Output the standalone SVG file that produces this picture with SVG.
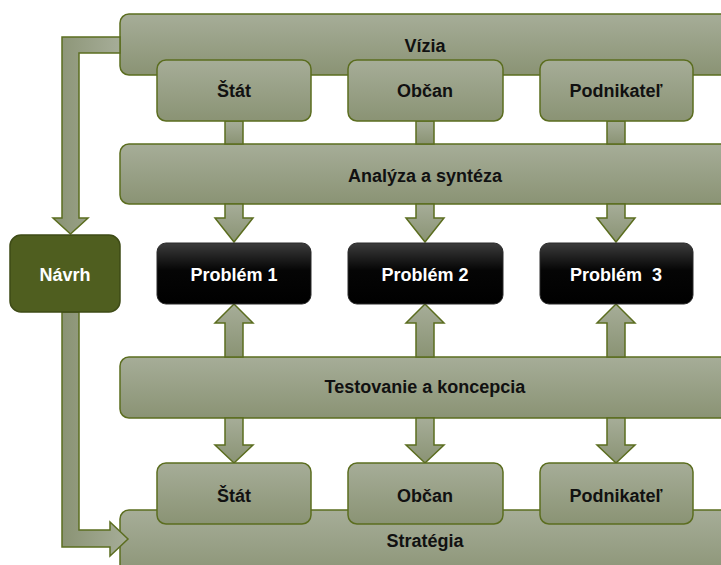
<svg xmlns="http://www.w3.org/2000/svg" width="721" height="565" viewBox="0 0 721 565">
  <defs>
    <linearGradient id="olive" x1="0" y1="0" x2="0" y2="1">
      <stop offset="0" stop-color="#a6ad98"/>
      <stop offset="1" stop-color="#8a9374"/>
    </linearGradient>
    <linearGradient id="oliveH" x1="0" y1="0" x2="1" y2="0">
      <stop offset="0" stop-color="#8a9374"/>
      <stop offset="1" stop-color="#a6ad98"/>
    </linearGradient>
    <linearGradient id="dark" x1="0" y1="0" x2="0" y2="1">
      <stop offset="0" stop-color="#3c3c3c"/>
      <stop offset="0.45" stop-color="#050505"/>
      <stop offset="1" stop-color="#000000"/>
    </linearGradient>
    <style>
      .bar, .box { fill: url(#olive); stroke: #5b6d1f; stroke-width: 1.5; }
      .prob { fill: url(#dark); stroke: #2a2a2a; stroke-width: 1; }
      .navrh { fill: #4f5e1f; stroke: #3e4b16; stroke-width: 1.5; }
      .arrow { fill: url(#olive); stroke: #5b6d1f; stroke-width: 1.5; stroke-linejoin: miter; }
      .arrowH { fill: url(#oliveH); stroke: #5b6d1f; stroke-width: 1.5; }
      text { font-family: "Liberation Sans", Arial, sans-serif; font-weight: bold; font-size: 18px; text-anchor: middle; }
      .dk { fill: #111111; }
      .lt { fill: #ffffff; }
    </style>
  </defs>

  <!-- wide horizontal bands -->
  <g id="vizia">
    <rect class="bar" x="120" y="14" width="612" height="61" rx="9"/>
    <text class="dk" x="425" y="52">Vízia</text>
  </g>
  <g id="analyza">
    <rect class="bar" x="120" y="144" width="612" height="60" rx="9"/>
    <text class="dk" x="425" y="182">Analýza a syntéza</text>
  </g>
  <g id="testovanie">
    <rect class="bar" x="120" y="357" width="612" height="61" rx="9"/>
    <text class="dk" x="425" y="393">Testovanie a koncepcia</text>
  </g>
  <g id="strategia">
    <rect class="bar" x="120" y="510" width="612" height="70" rx="9"/>
    <text class="dk" x="425" y="547">Stratégia</text>
  </g>

  <!-- connectors -->
  <g id="connectors">
    <!-- feedback loop: Vízia -> Návrh -> Stratégia -->
    <path class="arrowH" d="M120 37 H62 V218 H53 L70.5 234 L88 218 H79 V53 H120 Z"/>
    <path class="arrowH" d="M62 312 V547 H110 V556 L128 539 L110 522 V530 H79 V312 Z"/>

    <!-- stakeholders -> Analýza -->
    <rect class="arrow" x="225" y="121" width="18" height="23"/>
    <rect class="arrow" x="416" y="121" width="18" height="23"/>
    <rect class="arrow" x="607" y="121" width="18" height="23"/>

    <!-- Analýza -> problems -->
    <path class="arrow" d="M225 204 H243 V218 H253 L234 242 L215 218 H225 Z"/>
    <path class="arrow" d="M416 204 H434 V218 H444 L425 242 L406 218 H416 Z"/>
    <path class="arrow" d="M607 204 H625 V218 H635 L616 242 L597 218 H607 Z"/>

    <!-- Testovanie -> problems -->
    <path class="arrow" d="M225 357 H243 V323 H253 L234 304 L215 323 H225 Z"/>
    <path class="arrow" d="M416 357 H434 V323 H444 L425 304 L406 323 H416 Z"/>
    <path class="arrow" d="M607 357 H625 V323 H635 L616 304 L597 323 H607 Z"/>

    <!-- Testovanie -> stakeholders -->
    <path class="arrow" d="M225 418 H243 V445 H253 L234 463 L215 445 H225 Z"/>
    <path class="arrow" d="M416 418 H434 V445 H444 L425 463 L406 445 H416 Z"/>
    <path class="arrow" d="M607 418 H625 V445 H635 L616 463 L597 445 H607 Z"/>
  </g>

  <!-- stakeholder boxes, upper row -->
  <g id="stat-top">
    <rect class="box" x="157" y="60" width="154" height="61" rx="9"/>
    <text class="dk" x="234" y="97">Štát</text>
  </g>
  <g id="obcan-top">
    <rect class="box" x="348" y="60" width="155" height="61" rx="9"/>
    <text class="dk" x="425" y="97">Občan</text>
  </g>
  <g id="podnikatel-top">
    <rect class="box" x="540" y="60" width="153" height="61" rx="9"/>
    <text class="dk" x="616" y="97">Podnikateľ</text>
  </g>

  <!-- design node -->
  <g id="navrh">
    <rect class="navrh" x="10" y="235" width="110" height="77" rx="11"/>
    <text class="lt" x="65" y="281">Návrh</text>
  </g>

  <!-- problems -->
  <g id="problem1">
    <rect class="prob" x="157" y="243" width="154" height="61" rx="9"/>
    <text class="lt" x="234" y="281">Problém 1</text>
  </g>
  <g id="problem2">
    <rect class="prob" x="348" y="243" width="155" height="61" rx="9"/>
    <text class="lt" x="425" y="281">Problém 2</text>
  </g>
  <g id="problem3">
    <rect class="prob" x="540" y="243" width="153" height="61" rx="9"/>
    <text class="lt" x="616" y="281" xml:space="preserve">Problém  3</text>
  </g>

  <!-- stakeholder boxes, lower row -->
  <g id="stat-bottom">
    <rect class="box" x="157" y="463" width="154" height="61" rx="9"/>
    <text class="dk" x="234" y="502">Štát</text>
  </g>
  <g id="obcan-bottom">
    <rect class="box" x="348" y="463" width="155" height="61" rx="9"/>
    <text class="dk" x="425" y="502">Občan</text>
  </g>
  <g id="podnikatel-bottom">
    <rect class="box" x="540" y="463" width="153" height="61" rx="9"/>
    <text class="dk" x="616" y="502">Podnikateľ</text>
  </g>
</svg>
